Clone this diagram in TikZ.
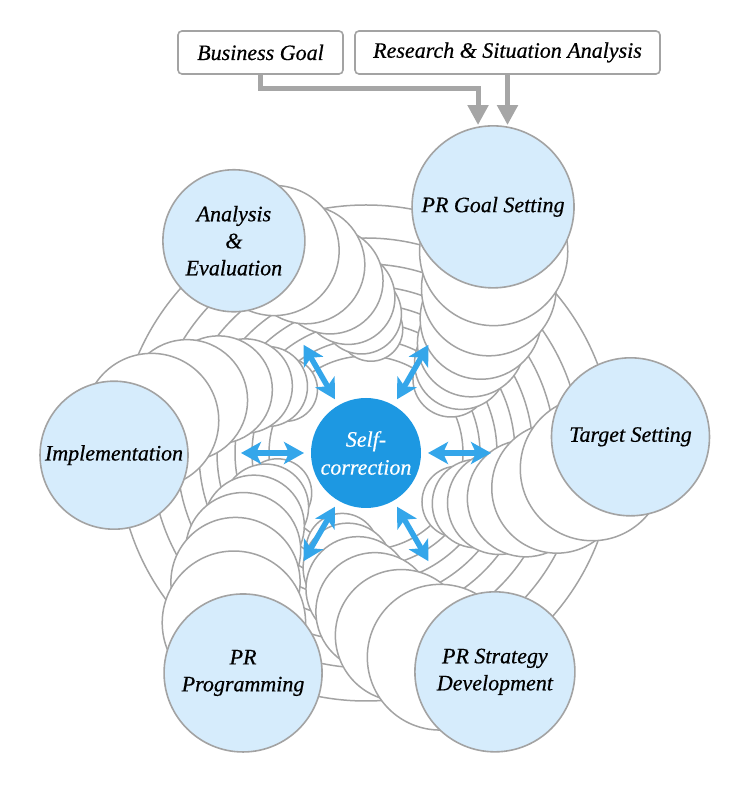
\documentclass[tikz,border=0pt]{standalone}
\usepackage{fontspec}
\setmainfont{Liberation Serif}[ItalicFeatures={FakeBold=0.5}]
\usepackage{tikz}
\usetikzlibrary{positioning,arrows.meta,calc}
\usepackage{xcolor}
\definecolor{ringgray}{RGB}{163,163,163}
\definecolor{feedgray}{RGB}{166,166,166}
\definecolor{stagefill}{RGB}{214,236,252}
\definecolor{coreblue}{RGB}{29,152,226}
\definecolor{swapblue}{RGB}{52,166,234}

\begin{document}
\begin{tikzpicture}[x=1pt,y=1pt,
  ring/.style={draw=ringgray,line width=1.5pt},
  ghost/.style={draw=ringgray,fill=white,line width=1.5pt},
  stage/.style={circle,draw=ringgray,fill=stagefill,line width=1.6pt,align=center,inner sep=0pt,
    font=\fontsize{22}{27}\selectfont\itshape},
  core/.style={circle,fill=coreblue,text=white,minimum size=110pt,align=center,inner sep=0pt,
    font=\fontsize{22}{28}\selectfont\itshape},
  input/.style={rectangle,rounded corners=4pt,draw=ringgray,fill=white,line width=1.6pt,
    minimum height=43pt,font=\fontsize{22}{27}\selectfont\itshape},
  feed/.style={draw=feedgray,line width=5pt,-{Triangle[width=20pt,length=20pt]}},
  swap/.style={draw=swapblue,line width=5.5pt,
    {Stealth[width=22pt,length=20pt,inset=5pt]}-{Stealth[width=22pt,length=20pt,inset=5pt]}}
]
\useasboundingbox (0,0) rectangle (750,785);
\coordinate (C) at (366,332);

% tunnel rings
\foreach \rad in {97,114,131,149,167,189,215,248}
  \draw[ring] (C) circle (\rad);

% trails: outer angle/dist/radius, inner angle/dist/radius
\foreach \oa/\od/\orad/\ia/\id/\irad in {62.7/277/81/39/97/20, 3.5/265/79/-31/89/18,
    -59.5/254/80/-108/85/18, -119.2/252/79/-159/83/16, 180.5/252/74/138/88/14,
    121.9/250/71/84/110/14}{
  \foreach \k in {7,6,...,1}{
    \pgfmathsetmacro{\trd}{\od*(\id/\od)^(\k/7)}
    \pgfmathsetmacro{\tra}{\oa+(\ia-\oa)*(\od-\trd)/(\od-\id)}
    \pgfmathsetmacro{\trr}{\irad+(\orad-\irad)*sqrt(max(0,(\trd-\id)/(\od-\id)))}
    \filldraw[ghost] ($(C)+(\tra:\trd)$) circle (\trr);
  }
}

% stages
\node[stage,minimum size=162pt] (goal) at ($(C)+(62.7:277)$) {PR Goal Setting};
\node[stage,minimum size=158pt] (target) at ($(C)+(3.5:265)$) {Target Setting};
\node[stage,minimum size=160pt] (strategy) at ($(C)+(-59.5:254)$) {PR Strategy\\Development};
\node[stage,minimum size=158pt] (programming) at ($(C)+(-119.2:252)$) {PR\\Programming};
\node[stage,minimum size=148pt] (implementation) at ($(C)+(180.5:252)$) {Implementation};
\node[stage,minimum size=142pt] (analysis) at ($(C)+(121.9:250)$) {Analysis\\\&\\Evaluation};

% centre
\node[core] (self) at (C) {Self-\\correction};
\foreach \a in {0,60,...,300}
  \draw[swap] ($(self.center)+(\a:62)$) -- ($(self.center)+(\a:125)$);

% inputs
\node[input,minimum width=165pt] (business) at (260.5,732.5) {Business Goal};
\node[input,minimum width=305pt] (research) at (507.5,732.5) {Research \& Situation Analysis};
\draw[feed] (business.south) -- ++(0,-14) -| ([xshift=-15pt]goal.north);
\draw[feed] (research.south) -- (research.south |- goal.north);
\end{tikzpicture}
\end{document}
